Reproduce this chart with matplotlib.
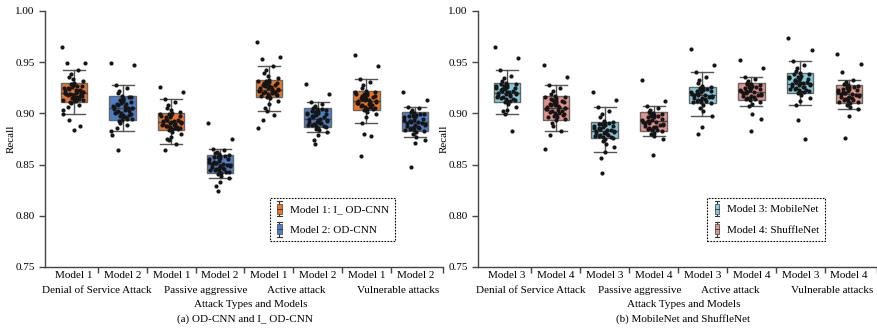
import numpy as np
import matplotlib
matplotlib.use('Agg')
import matplotlib.pyplot as plt
from matplotlib.legend_handler import HandlerBase
from matplotlib.patches import Patch, Rectangle
from matplotlib.lines import Line2D

plt.rcParams['font.family'] = 'serif'
plt.rcParams['font.serif'] = ['Liberation Serif', 'DejaVu Serif']
plt.rcParams['font.size'] = 8

# Grupos y modelos
groups = ['Denial of Service Attack', 'Passive aggressive', 'Active attack', 'Vulnerable attacks']
labels_a = ['Model 1', 'Model 2'] * 4
labels_b = ['Model 3', 'Model 4'] * 4
legend_a = ['Model 1: I_ OD-CNN', 'Model 2: OD-CNN']
legend_b = ['Model 3: MobileNet', 'Model 4: ShuffleNet']
caption_a = '(a) OD-CNN and I_ OD-CNN'
caption_b = '(b) MobileNet and ShuffleNet'

# Estadísticos de las cajas
q1_a = [0.911, 0.894, 0.884, 0.842, 0.916, 0.887, 0.903, 0.883]
med_a = [0.920, 0.905, 0.892, 0.851, 0.923, 0.895, 0.912, 0.892]
q3_a = [0.930, 0.917, 0.900, 0.859, 0.933, 0.905, 0.922, 0.901]
lo_a = [0.899, 0.883, 0.870, 0.837, 0.902, 0.882, 0.891, 0.877]
hi_a = [0.942, 0.928, 0.914, 0.865, 0.946, 0.911, 0.934, 0.906]

q1_b = [0.911, 0.894, 0.876, 0.883, 0.910, 0.913, 0.920, 0.910]
med_b = [0.920, 0.905, 0.883, 0.893, 0.918, 0.921, 0.929, 0.919]
q3_b = [0.930, 0.917, 0.892, 0.901, 0.926, 0.930, 0.939, 0.928]
lo_b = [0.899, 0.883, 0.862, 0.878, 0.897, 0.907, 0.908, 0.904]
hi_b = [0.942, 0.928, 0.906, 0.907, 0.940, 0.936, 0.951, 0.933]

# Puntos individuales (aprox.)
dos_m1 = [0.965, 0.949, 0.949, 0.942, 0.938, 0.936, 0.934, 0.932, 0.930, 0.929, 0.928, 0.927, 0.926,
          0.925, 0.924, 0.923, 0.922, 0.921, 0.921, 0.920, 0.920, 0.919, 0.918, 0.918, 0.917, 0.916,
          0.915, 0.914, 0.913, 0.912, 0.911, 0.910, 0.908, 0.906, 0.903, 0.899, 0.894, 0.888, 0.884,
          0.929, 0.927, 0.925, 0.923, 0.922, 0.920, 0.919, 0.917, 0.916, 0.914, 0.913, 0.912]
dos_m2 = [0.949, 0.947, 0.928, 0.925, 0.922, 0.920, 0.917, 0.916, 0.915, 0.913, 0.912, 0.911, 0.910,
          0.909, 0.908, 0.907, 0.906, 0.905, 0.905, 0.904, 0.903, 0.902, 0.901, 0.900, 0.899, 0.898,
          0.897, 0.896, 0.895, 0.894, 0.893, 0.891, 0.889, 0.886, 0.883, 0.879, 0.864,
          0.916, 0.914, 0.911, 0.909, 0.907, 0.905, 0.904, 0.902, 0.900, 0.898, 0.896, 0.895]
pas_m1 = [0.926, 0.921, 0.914, 0.911, 0.908, 0.905, 0.903, 0.901, 0.900, 0.899, 0.898, 0.897, 0.896,
          0.895, 0.894, 0.893, 0.893, 0.892, 0.891, 0.890, 0.889, 0.888, 0.888, 0.887, 0.886, 0.885,
          0.884, 0.882, 0.880, 0.877, 0.875, 0.874, 0.870, 0.864,
          0.899, 0.897, 0.896, 0.894, 0.892, 0.891, 0.890, 0.889, 0.887, 0.886, 0.885]
pas_m2 = [0.891, 0.875, 0.865, 0.864, 0.862, 0.861, 0.860, 0.859, 0.858, 0.857, 0.856, 0.855, 0.854,
          0.853, 0.852, 0.851, 0.851, 0.850, 0.849, 0.848, 0.847, 0.846, 0.845, 0.844, 0.843, 0.842,
          0.841, 0.839, 0.837, 0.833, 0.829, 0.824,
          0.858, 0.857, 0.855, 0.853, 0.852, 0.850, 0.849, 0.847, 0.846, 0.845, 0.843]
act_m1 = [0.970, 0.955, 0.953, 0.946, 0.942, 0.939, 0.937, 0.935, 0.933, 0.932, 0.931, 0.930, 0.929,
          0.928, 0.927, 0.926, 0.925, 0.924, 0.923, 0.923, 0.922, 0.921, 0.920, 0.919, 0.918, 0.917,
          0.916, 0.915, 0.912, 0.909, 0.905, 0.902, 0.898, 0.894, 0.886,
          0.932, 0.930, 0.928, 0.927, 0.925, 0.924, 0.922, 0.921, 0.920, 0.919, 0.917]
act_m2 = [0.929, 0.919, 0.911, 0.909, 0.907, 0.905, 0.904, 0.903, 0.902, 0.901, 0.900, 0.899, 0.898,
          0.897, 0.896, 0.895, 0.895, 0.894, 0.893, 0.892, 0.891, 0.890, 0.889, 0.888, 0.887, 0.886,
          0.885, 0.884, 0.882, 0.879, 0.874, 0.870,
          0.904, 0.902, 0.900, 0.899, 0.897, 0.896, 0.894, 0.892, 0.891, 0.889, 0.888]
vul_m1 = [0.957, 0.946, 0.934, 0.931, 0.928, 0.925, 0.922, 0.921, 0.920, 0.919, 0.918, 0.917, 0.916,
          0.915, 0.914, 0.913, 0.912, 0.912, 0.911, 0.910, 0.909, 0.908, 0.907, 0.906, 0.905, 0.904,
          0.903, 0.901, 0.899, 0.896, 0.891, 0.880, 0.878, 0.858,
          0.921, 0.919, 0.917, 0.916, 0.914, 0.913, 0.911, 0.910, 0.908, 0.906, 0.904]
vul_m2 = [0.921, 0.913, 0.906, 0.905, 0.903, 0.901, 0.900, 0.899, 0.898, 0.897, 0.896, 0.895, 0.894,
          0.893, 0.892, 0.892, 0.891, 0.890, 0.889, 0.888, 0.887, 0.886, 0.885, 0.884, 0.883, 0.882,
          0.880, 0.877, 0.874, 0.871, 0.848,
          0.900, 0.899, 0.897, 0.896, 0.894, 0.893, 0.891, 0.889, 0.887, 0.886, 0.884]

dos_m3 = [0.965, 0.954, 0.942, 0.937, 0.935, 0.932, 0.930, 0.929, 0.928, 0.927, 0.926, 0.925, 0.924,
          0.923, 0.922, 0.921, 0.920, 0.920, 0.919, 0.918, 0.917, 0.916, 0.915, 0.914, 0.913, 0.912,
          0.911, 0.909, 0.906, 0.903, 0.902, 0.899, 0.883,
          0.929, 0.927, 0.925, 0.924, 0.922, 0.921, 0.919, 0.918, 0.916, 0.914, 0.912]
dos_m4 = [0.947, 0.936, 0.928, 0.925, 0.922, 0.919, 0.917, 0.916, 0.915, 0.913, 0.912, 0.911, 0.910,
          0.909, 0.908, 0.907, 0.906, 0.905, 0.905, 0.904, 0.903, 0.902, 0.901, 0.900, 0.899, 0.898,
          0.897, 0.896, 0.895, 0.894, 0.891, 0.888, 0.883, 0.879, 0.865,
          0.916, 0.914, 0.912, 0.910, 0.908, 0.906, 0.904, 0.902, 0.900, 0.898, 0.896]
pas_m3 = [0.921, 0.913, 0.906, 0.902, 0.899, 0.896, 0.893, 0.892, 0.891, 0.890, 0.889, 0.888, 0.887,
          0.886, 0.885, 0.884, 0.883, 0.883, 0.882, 0.881, 0.880, 0.879, 0.878, 0.877, 0.876, 0.875,
          0.873, 0.870, 0.867, 0.862, 0.856, 0.842,
          0.891, 0.890, 0.888, 0.886, 0.885, 0.884, 0.882, 0.881, 0.879, 0.878, 0.877]
pas_m4 = [0.933, 0.912, 0.907, 0.905, 0.903, 0.901, 0.900, 0.899, 0.898, 0.897, 0.896, 0.895, 0.894,
          0.893, 0.893, 0.892, 0.891, 0.890, 0.889, 0.888, 0.887, 0.886, 0.885, 0.884, 0.883, 0.881,
          0.880, 0.878, 0.875, 0.859,
          0.900, 0.899, 0.897, 0.896, 0.894, 0.892, 0.891, 0.889, 0.887, 0.886, 0.884]
act_m3 = [0.963, 0.947, 0.940, 0.936, 0.933, 0.930, 0.927, 0.926, 0.925, 0.924, 0.923, 0.922, 0.921,
          0.920, 0.919, 0.918, 0.918, 0.917, 0.916, 0.915, 0.914, 0.913, 0.912, 0.911, 0.910, 0.908,
          0.905, 0.902, 0.897, 0.887, 0.880,
          0.925, 0.924, 0.922, 0.921, 0.919, 0.918, 0.916, 0.915, 0.913, 0.912, 0.911]
act_m4 = [0.952, 0.944, 0.936, 0.934, 0.932, 0.930, 0.929, 0.928, 0.927, 0.926, 0.925, 0.924, 0.923,
          0.922, 0.921, 0.921, 0.920, 0.919, 0.918, 0.917, 0.916, 0.915, 0.914, 0.913, 0.911, 0.909,
          0.907, 0.899, 0.895, 0.883,
          0.929, 0.928, 0.926, 0.925, 0.923, 0.922, 0.920, 0.918, 0.917, 0.915, 0.914]
vul_m3 = [0.974, 0.962, 0.951, 0.947, 0.944, 0.941, 0.939, 0.938, 0.937, 0.936, 0.935, 0.934, 0.933,
          0.932, 0.931, 0.930, 0.929, 0.929, 0.928, 0.927, 0.926, 0.925, 0.924, 0.923, 0.922, 0.921,
          0.920, 0.918, 0.915, 0.912, 0.908, 0.894, 0.875,
          0.938, 0.936, 0.935, 0.933, 0.931, 0.930, 0.928, 0.926, 0.924, 0.923, 0.921]
vul_m4 = [0.958, 0.948, 0.940, 0.933, 0.931, 0.929, 0.928, 0.927, 0.926, 0.925, 0.924, 0.923, 0.922,
          0.921, 0.920, 0.919, 0.919, 0.918, 0.917, 0.916, 0.915, 0.914, 0.913, 0.912, 0.911, 0.910,
          0.908, 0.906, 0.904, 0.897, 0.876,
          0.927, 0.926, 0.924, 0.923, 0.921, 0.920, 0.918, 0.916, 0.915, 0.913, 0.911]

points_a = [dos_m1, dos_m2, pas_m1, pas_m2, act_m1, act_m2, vul_m1, vul_m2]
points_b = [dos_m3, dos_m4, pas_m3, pas_m4, act_m3, act_m4, vul_m3, vul_m4]

colors_a = ['#EF7422', '#4A7EC6']
colors_b = ['#7FCCE0', '#E3918A']

# posiciones x de las etiquetas de grupo
group_x = [0.48, 2.71, 4.57, 6.66]


class MiniBox(HandlerBase):
    # dibuja un boxplot pequeño como icono de la leyenda
    def create_artists(self, legend, orig_handle, xdescent, ydescent, width, height, fontsize, trans):
        cx = -xdescent + width / 2
        y0 = -ydescent
        w = width * 0.55
        whisk = Line2D([cx, cx], [y0 - 0.25 * height, y0 + 1.25 * height], color='#333333', lw=0.8, transform=trans)
        cap1 = Line2D([cx - w / 2, cx + w / 2], [y0 - 0.25 * height] * 2, color='#333333', lw=0.8, transform=trans)
        cap2 = Line2D([cx - w / 2, cx + w / 2], [y0 + 1.25 * height] * 2, color='#333333', lw=0.8, transform=trans)
        box = Rectangle((cx - w / 2, y0), w, height, facecolor=orig_handle.get_facecolor(),
                        edgecolor='#555555', lw=0.6, transform=trans)
        med = Line2D([cx - w / 2, cx + w / 2], [y0 + 0.5 * height] * 2, color='#333333', lw=0.6, transform=trans)
        return [whisk, cap1, cap2, box, med]


def panel(ax, pts, q1, med, q3, lo, hi, colors, ticklabels, leglabels, caption, cap_x):
    pos = np.arange(len(pts))
    stats = []
    for i in range(len(pts)):
        stats.append({'med': med[i], 'q1': q1[i], 'q3': q3[i], 'whislo': lo[i], 'whishi': hi[i], 'fliers': []})
    bp = ax.bxp(stats, positions=pos, widths=0.54, capwidths=0.45, patch_artist=True, showfliers=False,
                boxprops=dict(edgecolor='#666666', linewidth=1.0),
                whiskerprops=dict(color='#555555', linewidth=1.0),
                capprops=dict(color='#555555', linewidth=1.0),
                medianprops=dict(color='#444444', linewidth=1.0))
    for i, b in enumerate(bp['boxes']):
        b.set_facecolor(colors[i % 2])

    # puntos con desplazamiento horizontal fijo (sin azar)
    for i, vals in enumerate(pts):
        n = len(vals)
        off = np.array([((k * k * 0.6180339 + k * 0.37) % 1.0) - 0.5 for k in range(n)]) * 0.48
        ax.scatter(pos[i] + off, vals, s=9, color='#151515', zorder=5, linewidths=0)

    ax.set_xlim(-0.59, 7.57)
    ax.set_ylim(0.75, 1.0)
    ax.set_yticks(np.arange(0.75, 1.001, 0.05))
    ax.set_yticklabels(['%.2f' % v for v in np.arange(0.75, 1.001, 0.05)])
    ax.set_xticks(pos)
    ax.set_xticklabels(ticklabels)
    ax.set_xticks(list(np.arange(0.5, 7, 1.0)) + [7.57], minor=True)
    ax.tick_params(axis='x', which='major', length=0, pad=3)
    ax.tick_params(axis='x', which='minor', length=4, width=1, color='#444444')
    ax.tick_params(axis='y', length=4, width=1, color='#444444')
    for s in ['top', 'right']:
        ax.spines[s].set_visible(False)
    for s in ['left', 'bottom']:
        ax.spines[s].set_color('#444444')
        ax.spines[s].set_linewidth(1.0)
    ax.set_ylabel('Recall')
    ax.yaxis.set_label_coords(-0.073, 0.5)

    tr = ax.get_xaxis_transform()
    for g, name in enumerate(groups):
        ax.text(group_x[g], -0.093, name, transform=tr, ha='center', va='center')
    ax.text(3.62, -0.146, 'Attack Types and Models', transform=tr, ha='center', va='center')
    ax.text(cap_x, -0.204, caption, transform=tr, ha='center', va='center')

    handles = [Patch(facecolor=colors[0]), Patch(facecolor=colors[1])]
    leg = ax.legend(handles, leglabels, handler_map={Patch: MiniBox()}, loc='center',
                    bbox_to_anchor=(0.722, 0.186), fancybox=False, framealpha=1,
                    handlelength=0.7, handleheight=1.0, handletextpad=0.6, labelspacing=0.9,
                    borderpad=0.5, fontsize=8)
    fr = leg.get_frame()
    fr.set_edgecolor('black')
    fr.set_linestyle((0, (1.5, 1.2)))
    fr.set_linewidth(0.8)


fig = plt.figure(figsize=(8.77, 3.29), dpi=100)
ax1 = fig.add_axes([45 / 877, 1 - 267 / 329, 398 / 877, 256 / 329])
ax2 = fig.add_axes([478 / 877, 1 - 267 / 329, 399 / 877, 256 / 329])

panel(ax1, points_a, q1_a, med_a, q3_a, lo_a, hi_a, colors_a, labels_a, legend_a, caption_a, 3.51)
panel(ax2, points_b, q1_b, med_b, q3_b, lo_b, hi_b, colors_b, labels_b, legend_b, caption_b, 3.61)

fig.savefig('out.png', dpi=100)
